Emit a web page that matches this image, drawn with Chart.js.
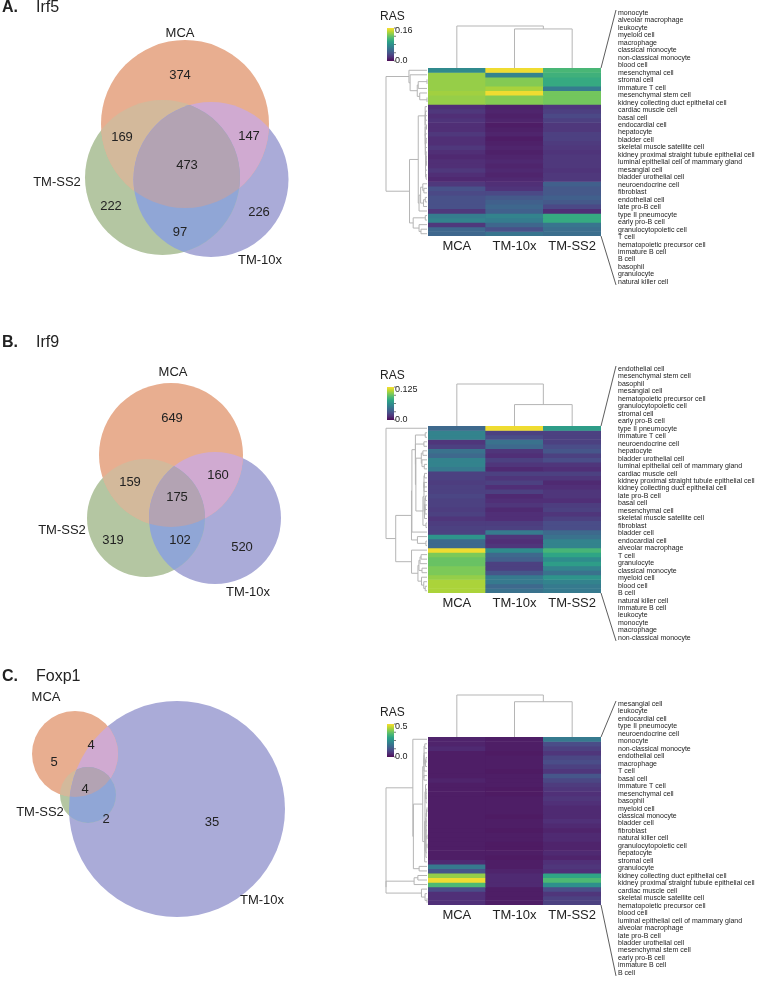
<!DOCTYPE html>
<html>
<head>
<meta charset="utf-8">
<script src="https://cdn.jsdelivr.net/npm/chart.js@4.4.0/dist/chart.umd.min.js"></script>
<style>
  body { margin: 0; background: #fff; }
  #page { position: relative; width: 765px; height: 1000px; }
  canvas { position: absolute; }
</style>
</head>
<body>
<div id="page">
  <canvas id="vennA" width="370" height="320" style="left:0;top:0"></canvas>
  <canvas id="heatA" width="395" height="320" style="left:370px;top:0"></canvas>
  <canvas id="vennB" width="370" height="340" style="left:0;top:320px"></canvas>
  <canvas id="heatB" width="395" height="340" style="left:370px;top:320px"></canvas>
  <canvas id="vennC" width="370" height="340" style="left:0;top:660px"></canvas>
  <canvas id="heatC" width="395" height="340" style="left:370px;top:660px"></canvas>
</div>
<script>
const columnNames = ["MCA", "TM-10x", "TM-SS2"];
const vennNames = ["MCA", "TM-SS2", "TM-10x"];

// venn regions: MCA only, SS2 only, 10x only, MCA&SS2, MCA&10x, SS2&10x, all three
const irf5Counts = [374, 222, 226, 169, 147, 97, 473];
const irf9Counts = [649, 319, 520, 159, 160, 102, 175];
const foxp1Counts = [5, null, 35, null, 4, 2, 4];

const irf5Cells = ["monocyte", "alveolar macrophage", "leukocyte", "myeloid cell", "macrophage", "classical monocyte",
  "non-classical monocyte", "blood cell", "mesenchymal cell", "stromal cell", "immature T cell", "mesenchymal stem cell",
  "kidney collecting duct epithelial cell", "cardiac muscle cell", "basal cell", "endocardial cell", "hepatocyte",
  "bladder cell", "skeletal muscle satellite cell", "kidney proximal straight tubule epithelial cell",
  "luminal epithelial cell of mammary gland", "mesangial cell", "bladder urothelial cell", "neuroendocrine cell",
  "fibroblast", "endothelial cell", "late pro-B cell", "type II pneumocyte", "early pro-B cell",
  "granulocytopoietic cell", "T cell", "hematopoietic precursor cell", "immature B cell", "B cell", "basophil",
  "granulocyte", "natural killer cell"];
const irf5MCA = [0.075, 0.135, 0.135, 0.135, 0.135, 0.138, 0.135, 0.135, 0.015, 0.02, 0.015, 0.018, 0.015, 0.015, 0.02,
  0.015, 0.015, 0.02, 0.015, 0.012, 0.015, 0.015, 0.02, 0.015, 0.012, 0.02, 0.035, 0.03, 0.035, 0.035, 0.035, 0.02,
  0.065, 0.07, 0.02, 0.05, 0.05];
const irf510x = [0.16, 0.07, 0.13, 0.13, 0.14, 0.16, 0.13, 0.13, 0.008, 0.01, 0.008, 0.01, 0.006, 0.008, 0.01, 0.006,
  0.008, 0.01, 0.008, 0.01, 0.012, 0.01, 0.012, 0.01, 0.012, 0.015, 0.018, 0.03, 0.04, 0.045, 0.05, 0.045, 0.07, 0.065,
  0.05, 0.035, 0.06];
const irf5SS2 = [0.11, 0.105, 0.1, 0.1, 0.065, 0.125, 0.125, 0.125, 0.02, 0.025, 0.03, 0.025, 0.02, 0.02, 0.025, 0.025,
  0.022, 0.02, 0.018, 0.02, 0.02, 0.02, 0.018, 0.02, 0.02, 0.045, 0.04, 0.04, 0.045, 0.04, 0.03, 0.015, 0.1, 0.1, 0.06,
  0.055, 0.055];
const irf5Ticks = ["0.0", "0.16"];
const irf5ColLinks = [0.93, 1];

const irf9Cells = ["endothelial cell", "mesenchymal stem cell", "basophil", "mesangial cell",
  "hematopoietic precursor cell", "granulocytopoietic cell", "stromal cell", "early pro-B cell", "type II pneumocyte",
  "immature T cell", "neuroendocrine cell", "hepatocyte", "bladder urothelial cell",
  "luminal epithelial cell of mammary gland", "cardiac muscle cell", "kidney proximal straight tubule epithelial cell",
  "kidney collecting duct epithelial cell", "late pro-B cell", "basal cell", "mesenchymal cell",
  "skeletal muscle satellite cell", "fibroblast", "bladder cell", "endocardial cell", "alveolar macrophage", "T cell",
  "granulocyte", "classical monocyte", "myeloid cell", "blood cell", "B cell", "natural killer cell", "immature B cell",
  "leukocyte", "monocyte", "macrophage", "non-classical monocyte"];
const irf9MCA = [0.04, 0.055, 0.055, 0.015, 0.02, 0.045, 0.04, 0.055, 0.055, 0.05, 0.02, 0.02, 0.018, 0.02, 0.02, 0.022,
  0.02, 0.02, 0.018, 0.02, 0.015, 0.018, 0.02, 0.02, 0.065, 0.04, 0.04, 0.125, 0.1, 0.095, 0.095, 0.1, 0.1, 0.105, 0.11,
  0.11, 0.11];
const irf910x = [0.125, 0.02, 0.025, 0.045, 0.04, 0.015, 0.012, 0.02, 0.015, 0.01, 0.02, 0.015, 0.02, 0.012, 0.02, 0.01,
  0.012, 0.015, 0.01, 0.012, 0.012, 0.018, 0.02, 0.05, 0.015, 0.012, 0.015, 0.06, 0.04, 0.035, 0.02, 0.02, 0.03, 0.05,
  0.05, 0.04, 0.045];
const irf9SS2 = [0.07, 0.02, 0.02, 0.02, 0.025, 0.03, 0.02, 0.025, 0.015, 0.012, 0.02, 0.015, 0.01, 0.012, 0.015, 0.015,
  0.012, 0.018, 0.02, 0.015, 0.02, 0.025, 0.025, 0.04, 0.045, 0.055, 0.055, 0.085, 0.075, 0.06, 0.07, 0.055, 0.045,
  0.065, 0.055, 0.05, 0.05];
const irf9Ticks = ["0.0", "0.125"];
const irf9ColLinks = [0.51, 1];

const foxp1Cells = ["mesangial cell", "leukocyte", "endocardial cell", "type II pneumocyte", "neuroendocrine cell",
  "monocyte", "non-classical monocyte", "endothelial cell", "macrophage", "T cell", "basal cell", "immature T cell",
  "mesenchymal cell", "basophil", "myeloid cell", "classical monocyte", "bladder cell", "fibroblast",
  "natural killer cell", "granulocytopoietic cell", "hepatocyte", "stromal cell", "granulocyte",
  "kidney collecting duct epithelial cell", "kidney proximal straight tubule epithelial cell", "cardiac muscle cell",
  "skeletal muscle satellite cell", "hematopoietic precursor cell", "blood cell",
  "luminal epithelial cell of mammary gland", "alveolar macrophage", "late pro-B cell", "bladder urothelial cell",
  "mesenchymal stem cell", "early pro-B cell", "immature B cell", "B cell"];
const foxp1MCA = [0.03, 0.03, 0.04, 0.02, 0.02, 0.02, 0.02, 0.02, 0.02, 0.03, 0.02, 0.02, 0.02, 0.02, 0.02, 0.02, 0.02,
  0.02, 0.02, 0.02, 0.02, 0.02, 0.02, 0.02, 0.02, 0.02, 0.02, 0.04, 0.2, 0.12, 0.42, 0.5, 0.35, 0.1, 0.05, 0.05, 0.05];
const foxp110x = [0.02, 0.02, 0.02, 0.015, 0.02, 0.02, 0.02, 0.015, 0.02, 0.02, 0.02, 0.015, 0.015, 0.02, 0.02, 0.02,
  0.02, 0.015, 0.02, 0.02, 0.015, 0.02, 0.02, 0.015, 0.015, 0.02, 0.015, 0.02, 0.02, 0.03, 0.04, 0.04, 0.04, 0.02, 0.02,
  0.02, 0.02];
const foxp1SS2 = [0.2, 0.1, 0.08, 0.06, 0.09, 0.1, 0.08, 0.06, 0.12, 0.09, 0.07, 0.06, 0.05, 0.06, 0.05, 0.04, 0.04,
  0.04, 0.05, 0.04, 0.03, 0.04, 0.04, 0.03, 0.03, 0.04, 0.03, 0.05, 0.06, 0.05, 0.3, 0.35, 0.25, 0.1, 0.06, 0.08, 0.08];
const foxp1Ticks = ["0.0", "0.5"];
const foxp1ColLinks = [0.84, 1];

const FONT = '"Liberation Sans", Arial, sans-serif';
const regionColors = ["#e8ae90", "#b4c6a2", "#aaabd8", "#d3b99b", "#d0aad1", "#90a6d6", "#b3a3b3"];
const viridisStops = ["#440154", "#482475", "#414487", "#355f8d", "#2a788e", "#21918c", "#22a884", "#44bf70",
  "#7ad151", "#bddf26", "#fde725"];

function hexRgb(h) {
  return [1, 3, 5].map(i => parseInt(h.slice(i, i + 2), 16));
}
// the printed figure is a little washed out, so pull viridis slightly toward grey
function viridis(t) {
  t = Math.max(0, Math.min(1, t)) * 10;
  const i = Math.min(9, Math.floor(t)), f = t - i;
  const a = hexRgb(viridisStops[i]), b = hexRgb(viridisStops[i + 1]);
  return "rgb(" + a.map((v, k) => Math.round((v + (b[k] - v) * f) * 0.88 + 140 * 0.12)).join(",") + ")";
}

// agglomerative clustering that only joins neighbouring rows, so the tree never crosses
function adjacentLinkage(vecs) {
  let nodes = vecs.map((v, i) => ({ members: [i], pos: i + 0.5, h: 0 }));
  const links = [];
  const d2 = (i, j) => Math.hypot(...vecs[i].map((v, k) => v - vecs[j][k]));
  const dist = (a, b) => {
    let s = 0;
    a.members.forEach(i => b.members.forEach(j => { s += d2(i, j); }));
    return s / (a.members.length * b.members.length);
  };
  while (nodes.length > 1) {
    let best = 0, bd = Infinity;
    for (let j = 0; j < nodes.length - 1; j++) {
      const d = dist(nodes[j], nodes[j + 1]);
      if (d < bd) { bd = d; best = j; }
    }
    const l = nodes[best], r = nodes[best + 1];
    const n = { members: l.members.concat(r.members), pos: (l.pos + r.pos) / 2, h: Math.max(bd, l.h, r.h) };
    links.push({ l, r, n });
    nodes.splice(best, 2, n);
  }
  return { links, root: nodes[0] };
}

function vennChart(id, p) {
  const canvas = document.getElementById(id);
  const decor = {
    id: "vennDecor",
    afterDatasetsDraw(chart) {
      const { ctx, scales: { x, y } } = chart;
      const c = chart.data.datasets.map((d, i) => chart.getDatasetMeta(i).data[0]);
      const circle = e => { ctx.beginPath(); ctx.arc(e.x, e.y, e.options.radius, 0, Math.PI * 2); };
      const fillInside = (clips, e, col) => {
        ctx.save();
        clips.forEach(k => { circle(k); ctx.clip(); });
        circle(e);
        ctx.fillStyle = col;
        ctx.fill();
        ctx.restore();
      };
      fillInside([c[0]], c[1], regionColors[3]);
      fillInside([c[0]], c[2], regionColors[4]);
      fillInside([c[1]], c[2], regionColors[5]);
      fillInside([c[0], c[1]], c[2], regionColors[6]);

      ctx.save();
      ctx.fillStyle = "#222";
      ctx.textBaseline = "middle";
      ctx.textAlign = "left";
      ctx.font = "bold 16px " + FONT;
      ctx.fillText(p.panel, 2, p.titleY);
      ctx.font = "16px " + FONT;
      ctx.fillText(p.gene, 36, p.titleY);
      ctx.textAlign = "center";
      ctx.font = "13px " + FONT;
      p.counts.forEach((n, i) => {
        if (n === null) return;
        ctx.fillText(String(n), x.getPixelForValue(p.countPos[i][0]), y.getPixelForValue(p.countPos[i][1]));
      });
      vennNames.forEach((n, i) => {
        ctx.fillText(n, x.getPixelForValue(p.namePos[i][0]), y.getPixelForValue(p.namePos[i][1]));
      });
      ctx.restore();
    }
  };
  return new Chart(canvas, {
    type: "bubble",
    data: {
      datasets: p.circles.map((c, i) => ({
        label: vennNames[i],
        data: [{ x: c[0], y: c[1], r: c[2] }],
        backgroundColor: regionColors[i],
        borderWidth: 0,
        hoverBorderWidth: 0,
        clip: false
      }))
    },
    options: {
      responsive: false,
      animation: false,
      events: [],
      layout: { padding: 0, autoPadding: false },
      scales: {
        x: { type: "linear", min: 0, max: canvas.width, display: false },
        y: { type: "linear", min: 0, max: canvas.height, reverse: true, display: false }
      },
      plugins: { legend: { display: false }, tooltip: { enabled: false } }
    },
    plugins: [decor]
  });
}

function heatChart(id, p) {
  const canvas = document.getElementById(id);
  const cols = [p.mca, p.tenx, p.ss2];
  const tree = adjacentLinkage(p.cells.map((_, i) => cols.map(c => c[i])));
  const decor = {
    id: "heatDecor",
    afterDraw(chart) {
      const { ctx, chartArea: a, scales: { x, y } } = chart;
      ctx.save();
      ctx.fillStyle = "#222";
      ctx.textAlign = "center";
      ctx.textBaseline = "middle";
      ctx.font = "13px " + FONT;
      columnNames.forEach((n, i) => ctx.fillText(n, x.getPixelForValue(i), a.bottom + 10));

      // colour bar
      const cbL = a.left - 41, cbW = 7, cbH = 33, cbT = p.cbTop;
      for (let k = 0; k < cbH; k++) {
        ctx.fillStyle = viridis(1 - k / (cbH - 1));
        ctx.fillRect(cbL, cbT + k, cbW, 1);
      }
      ctx.strokeStyle = "#444";
      ctx.lineWidth = 0.7;
      for (let k = 0; k <= 4; k++) {
        const ty = cbT + cbH * k / 4;
        ctx.beginPath(); ctx.moveTo(cbL + cbW, ty); ctx.lineTo(cbL + cbW + 2, ty); ctx.stroke();
      }
      ctx.fillStyle = "#222";
      ctx.textAlign = "left";
      ctx.font = "9px " + FONT;
      ctx.fillText(p.ticks[1], cbL + cbW + 1, cbT + 3);
      ctx.fillText(p.ticks[0], cbL + cbW + 1, cbT + cbH);
      ctx.font = "12px " + FONT;
      ctx.fillText("RAS", cbL - 7, cbT - 11);

      // row dendrogram
      ctx.strokeStyle = "#b5b5b5";
      ctx.lineWidth = 1;
      const leafX = a.left - 1, span = 41;
      const xh = h => leafX - span * h / tree.root.h;
      tree.links.forEach(({ l, r, n }) => {
        const yl = y.getPixelForValue(l.pos), yr = y.getPixelForValue(r.pos), xn = xh(n.h);
        ctx.beginPath();
        ctx.moveTo(xh(l.h), yl); ctx.lineTo(xn, yl); ctx.lineTo(xn, yr); ctx.lineTo(xh(r.h), yr);
        ctx.stroke();
      });

      // column dendrogram: MCA joins (TM-10x, TM-SS2)
      const x0 = x.getPixelForValue(0), x1 = x.getPixelForValue(1), x2 = x.getPixelForValue(2);
      const yh = h => a.top - 42 * h;
      const yTM = yh(p.colLinks[0]), yRoot = yh(p.colLinks[1]);
      ctx.beginPath();
      ctx.moveTo(x1, a.top); ctx.lineTo(x1, yTM); ctx.lineTo(x2, yTM); ctx.lineTo(x2, a.top);
      ctx.moveTo(x0, a.top); ctx.lineTo(x0, yRoot); ctx.lineTo((x1 + x2) / 2, yRoot); ctx.lineTo((x1 + x2) / 2, yTM);
      ctx.stroke();

      // cell type labels and bracket lines
      const step = 7.47, lx = 248;
      const lastY = p.labelTop + (p.cells.length - 1) * step;
      ctx.strokeStyle = "#333";
      ctx.lineWidth = 0.8;
      ctx.beginPath();
      ctx.moveTo(a.right, a.top); ctx.lineTo(lx - 2, p.labelTop - 3);
      ctx.moveTo(a.right, a.bottom); ctx.lineTo(lx - 2, lastY + 3);
      ctx.stroke();
      ctx.fillStyle = "#222";
      ctx.font = "7px " + FONT;
      p.cells.forEach((n, i) => ctx.fillText(n, lx, p.labelTop + i * step));
      ctx.restore();
    }
  };
  return new Chart(canvas, {
    type: "bar",
    data: {
      labels: columnNames,
      datasets: p.cells.map((name, i) => ({
        label: name,
        data: [1, 1, 1],
        backgroundColor: cols.map(c => viridis(c[i] / p.max)),
        borderWidth: 0,
        barPercentage: 1,
        categoryPercentage: 1
      }))
    },
    options: {
      responsive: false,
      animation: false,
      events: [],
      layout: { padding: { left: 58, right: canvas.width - 231, top: p.heatTop, bottom: canvas.height - p.heatBottom } },
      scales: {
        x: { stacked: true, display: false },
        y: { stacked: true, display: false, min: 0, max: p.cells.length, reverse: true }
      },
      plugins: { legend: { display: false }, tooltip: { enabled: false } }
    },
    plugins: [decor]
  });
}

vennChart("vennA", {
  panel: "A.", gene: "Irf5", titleY: 8, counts: irf5Counts,
  circles: [[185, 124, 84], [162.5, 177.5, 77.5], [211, 179.5, 77.5]],
  countPos: [[180, 75], [111, 206], [259, 212], [122, 137], [249, 136], [180, 232], [187, 165]],
  namePos: [[180, 33], [57, 182], [260, 260]]
});
heatChart("heatA", {
  cells: irf5Cells, mca: irf5MCA, tenx: irf510x, ss2: irf5SS2, max: 0.16, ticks: irf5Ticks,
  colLinks: irf5ColLinks, heatTop: 68, heatBottom: 236, cbTop: 28, labelTop: 13
});

vennChart("vennB", {
  panel: "B.", gene: "Irf9", titleY: 23, counts: irf9Counts,
  circles: [[171, 135, 72], [146, 198, 59], [215, 198, 66]],
  countPos: [[172, 98], [113, 220], [242, 227], [130, 162], [218, 155], [180, 220], [177, 177]],
  namePos: [[173, 52], [62, 210], [248, 272]]
});
heatChart("heatB", {
  cells: irf9Cells, mca: irf9MCA, tenx: irf910x, ss2: irf9SS2, max: 0.125, ticks: irf9Ticks,
  colLinks: irf9ColLinks, heatTop: 106, heatBottom: 273, cbTop: 67, labelTop: 49
});

vennChart("vennC", {
  panel: "C.", gene: "Foxp1", titleY: 17, counts: foxp1Counts,
  circles: [[75, 94, 43], [88, 135, 28], [177, 149, 108]],
  countPos: [[54, 102], [0, 0], [212, 162], [0, 0], [91, 85], [106, 159], [85, 129]],
  namePos: [[46, 37], [40, 152], [262, 240]]
});
heatChart("heatC", {
  cells: foxp1Cells, mca: foxp1MCA, tenx: foxp110x, ss2: foxp1SS2, max: 0.5, ticks: foxp1Ticks,
  colLinks: foxp1ColLinks, heatTop: 77, heatBottom: 245, cbTop: 64, labelTop: 44
});
</script>
</body>
</html>
